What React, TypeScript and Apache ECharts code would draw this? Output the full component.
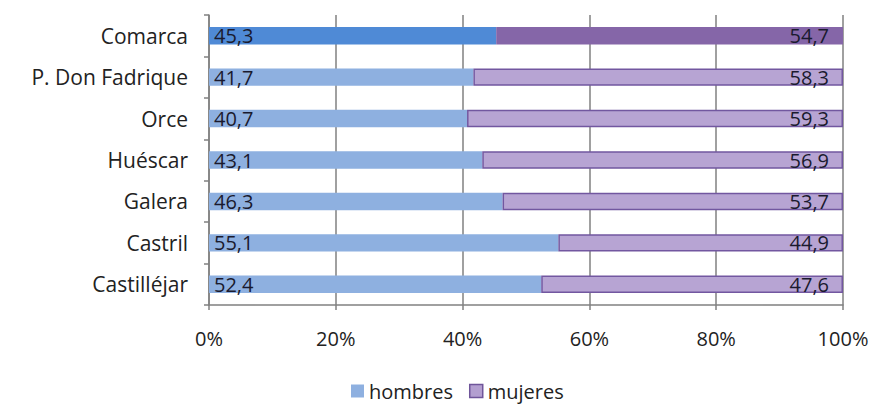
import React, { useEffect, useRef } from "react";
import * as echarts from "echarts";

const categories = ["Comarca", "P. Don Fadrique", "Orce", "Huéscar", "Galera", "Castril", "Castilléjar"];
const hombres = [45.3, 41.7, 40.7, 43.1, 46.3, 55.1, 52.4];
const mujeres = [54.7, 58.3, 59.3, 56.9, 53.7, 44.9, 47.6];
const xTicks = [0, 20, 40, 60, 80, 100];

const FONT = "'Open Sans', 'Noto Sans', sans-serif";
const FS = 20;
const fmt = (v: number) => v.toFixed(1).replace(".", ",");

export default function App() {
  const ref = useRef<HTMLDivElement>(null);
  useEffect(() => {
    if (!ref.current) return;
    const chart = echarts.init(ref.current, undefined, { renderer: "svg" });
    chart.setOption({
      animation: false,
      backgroundColor: "#ffffff",
      textStyle: { fontFamily: FONT },
      grid: { left: 209, right: 31, top: 15, bottom: 101, containLabel: false },
      legend: {
        top: 376,
        left: 346,
        itemWidth: 13,
        itemHeight: 13,
        itemGap: 16,
        textStyle: { fontSize: FS, color: "#222", fontFamily: FONT },
        data: [
          { name: "hombres", icon: "rect", itemStyle: { color: "#8eb0e0", borderWidth: 0 } },
          { name: "mujeres", icon: "rect", itemStyle: { color: "#b39fd0", borderColor: "#6f559a", borderWidth: 1.5 } },
        ],
      },
      xAxis: {
        type: "value",
        min: 0,
        max: 100,
        interval: 20,
        axisLine: { show: true, lineStyle: { color: "#808080", width: 1.5 } },
        axisTick: { show: true, length: 5, lineStyle: { color: "#808080", width: 1.5 } },
        splitLine: { show: true, lineStyle: { color: "#808080", width: 1.5 } },
        axisLabel: {
          margin: 23,
          fontSize: FS,
          color: "#222",
          fontFamily: FONT,
          formatter: (v: number) => (xTicks.includes(v) ? v + "%" : ""),
        },
      },
      yAxis: {
        type: "category",
        inverse: true,
        data: categories,
        axisLine: { show: true, lineStyle: { color: "#808080", width: 1.5 } },
        axisTick: { show: true, length: 5, lineStyle: { color: "#808080", width: 1.5 } },
        axisLabel: { margin: 21, fontSize: 21, color: "#222", fontFamily: FONT },
      },
      series: [
        {
          name: "hombres",
          type: "bar",
          stack: "total",
          barWidth: "42%",
          itemStyle: { color: "#8eb0e0" },
          label: {
            show: true,
            position: "insideLeft",
            distance: 5,
            fontSize: FS,
            color: "#1a1a2e",
            fontFamily: FONT,
            formatter: (p: any) => fmt(p.value),
          },
          data: hombres.map((v, i) =>
            i === 0 ? { value: v, itemStyle: { color: "#4f8ad6" } } : v
          ),
        },
        {
          name: "mujeres",
          type: "bar",
          stack: "total",
          barWidth: "42%",
          itemStyle: { color: "#b7a4d3", borderColor: "#7257a0", borderWidth: 1.5 },
          label: {
            show: true,
            position: "insideRight",
            distance: 14,
            fontSize: FS,
            color: "#1a1a2e",
            fontFamily: FONT,
            formatter: (p: any) => fmt(p.value),
          },
          data: mujeres.map((v, i) =>
            i === 0 ? { value: v, itemStyle: { color: "#8566a8", borderColor: "#8566a8" } } : v
          ),
        },
      ],
    });
    return () => chart.dispose();
  }, []);
  return <div ref={ref} style={{ width: 874, height: 406, position: "absolute", left: 0, top: 0 }} />;
}
